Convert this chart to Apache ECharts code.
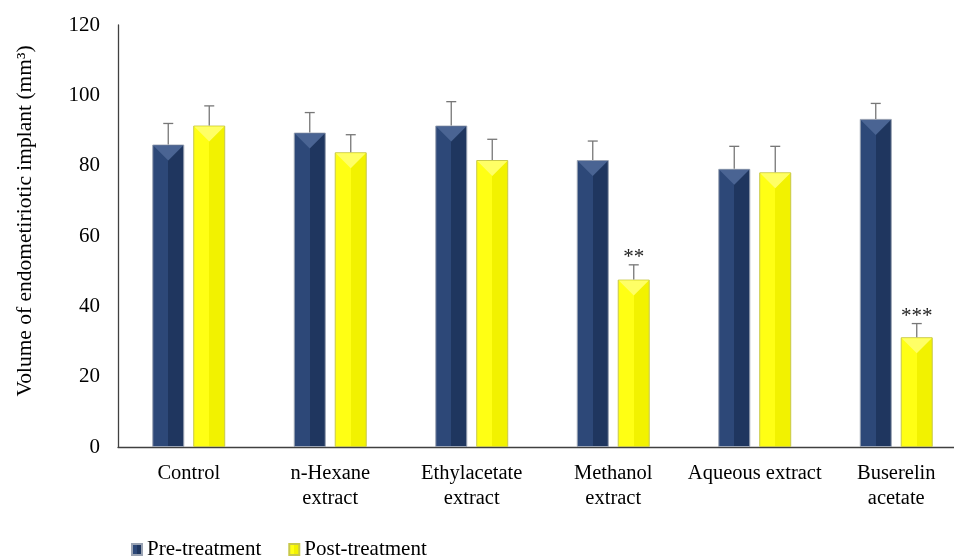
<!DOCTYPE html>
<html><head><meta charset="utf-8">
<script src="https://cdn.jsdelivr.net/npm/echarts@6/dist/echarts.min.js"></script>
<style>html,body{margin:0;padding:0;background:#fff;overflow:hidden;width:954px;height:556px}#c{width:980px;height:556px}</style>
</head><body><div id="c"></div>
<script>
const categories = ['Control','n-Hexane\nextract','Ethylacetate\nextract','Methanol\nextract','Aqueous extract','Buserelin\nacetate'];
const preValues = [86, 89.4, 91.4, 81.6, 79.1, 93.3];
const preSD = [6, 5.7, 6.8, 5.4, 6.4, 4.4];
const postValues = [91.4, 83.8, 81.6, 47.6, 78.1, 31.2];
const postSD = [5.6, 5.0, 5.9, 4.2, 7.4, 3.9];
const postMarks = ['', '', '', '**', '', '***'];
const yTicks = [0, 20, 40, 60, 80, 100, 120];

const FONT = '"Liberation Serif", "DejaVu Serif", serif';
const BAR_W = 32, OFFSET = 20.5;

function grad(l, r) {
  return {type:'linear', x:0, y:0, x2:1, y2:0, colorStops:[
    {offset:0, color:l}, {offset:0.5, color:l}, {offset:0.5, color:r}, {offset:1, color:r}]};
}
const preColor = grad('#2d4878', '#1f365f');
const postColor = grad('#ffff14', '#f2f200');

function overlay(off, topColor, errColor, marks) {
  return function(params, api) {
    const i = api.value(0), v = api.value(1), sd = api.value(2);
    const c = api.coord([i, v]);
    const e = api.coord([i, v + sd]);
    const x = c[0] + off;
    const hw = BAR_W / 2 - 1;
    const children = [
      {type:'polygon', shape:{points:[[x - hw, c[1] + 1], [x + hw, c[1] + 1], [x, c[1] + 16]]},
       style:{fill: topColor}},
      {type:'line', shape:{x1:x, y1:c[1], x2:x, y2:e[1]}, style:{stroke: errColor, lineWidth:1.3}},
      {type:'line', shape:{x1:x - 5, y1:e[1], x2:x + 5, y2:e[1]}, style:{stroke: errColor, lineWidth:1.3}}
    ];
    if (marks && marks[i]) {
      children.push({type:'text', style:{text: marks[i], x:x, y:e[1] + 3, align:'center', verticalAlign:'bottom',
        font:'21px ' + FONT, fill:'#222'}});
    }
    return {type:'group', children};
  };
}

const chart = echarts.init(document.getElementById('c'), null, {renderer:'canvas'});
chart.setOption({
  animation:false,
  textStyle:{fontFamily: FONT},
  grid:{left:118, top:25, right:13, bottom:109},
  legend:{
    left:126, top:534, itemWidth:10, itemHeight:11, itemGap:27,
    textStyle:{fontFamily:FONT, fontSize:21, color:'#000'},
    data:[{name:'Pre-treatment', icon:'rect'}, {name:'Post-treatment', icon:'rect'}]
  },
  xAxis:{
    type:'category', data:categories,
    axisLine:{lineStyle:{color:'#404040', width:1.3}},
    axisTick:{show:false},
    axisLabel:{fontFamily:FONT, fontSize:20.5, color:'#000', margin:14, lineHeight:25, interval:0}
  },
  yAxis:{
    type:'value', min:0, max:120, interval:20,
    name:'Volume of endometiriotic implant (mm³)', nameLocation:'middle', nameRotate:90, nameGap:82,
    nameTextStyle:{fontFamily:FONT, fontSize:21.5, color:'#000', padding:[0,0,0,30]},
    axisLine:{show:true, lineStyle:{color:'#404040', width:1.3}},
    axisTick:{show:false},
    splitLine:{show:false},
    axisLabel:{fontFamily:FONT, fontSize:21, color:'#000', margin:18,
      formatter: v => yTicks.includes(v) ? String(v) : ''}
  },
  series:[
    {name:'Pre-treatment', type:'bar', data:preValues, barWidth:BAR_W, barGap:'28%',
     itemStyle:{color:preColor, borderColor:'#9aa3b3', borderWidth:1}},
    {name:'Post-treatment', type:'bar', data:postValues, barWidth:BAR_W,
     itemStyle:{color:postColor, borderColor:'#c8c84a', borderWidth:1}},
    {type:'custom', silent:true, z:5, renderItem: overlay(-OFFSET, '#4a6493', '#777', null),
     data: preValues.map((v, i) => [i, v, preSD[i]])},
    {type:'custom', silent:true, z:5, renderItem: overlay(OFFSET, '#ffff66', '#777', postMarks),
     data: postValues.map((v, i) => [i, v, postSD[i]])}
  ]
});
</script></body></html>
